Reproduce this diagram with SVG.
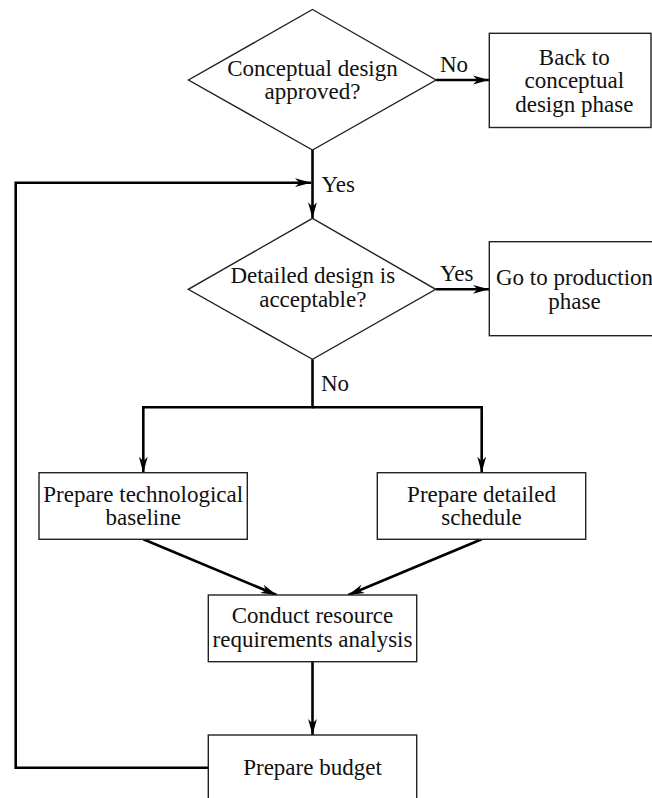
<svg xmlns="http://www.w3.org/2000/svg" width="652" height="798" viewBox="0 0 652 798">
  <style>
    .shape { fill: #ffffff; stroke: #222222; stroke-width: 1.4; }
    .conn { fill: none; stroke: #000000; stroke-width: 2.6; stroke-linejoin: miter; }
    .arrow { marker-end: url(#head); }
    text { font-family: "Liberation Serif", "Times New Roman", serif; font-size: 23px; fill: #111111; }
    .mid { text-anchor: middle; }
  </style>
  <defs>
    <marker id="head" markerUnits="userSpaceOnUse" viewBox="0 0 16 10" refX="16" refY="5" markerWidth="16" markerHeight="10" orient="auto">
      <path d="M0,0.6 L16,5 L0,9.4 L4.5,5 z" fill="#000000"/>
    </marker>
  </defs>

  <rect width="652" height="798" fill="#ffffff"/>

  <!-- connectors -->
  <g id="connectors">
    <path class="conn arrow" d="M436,80 H489"/>
    <path class="conn arrow" d="M312.5,150 V218.3"/>
    <path class="conn arrow" d="M208.3,767.7 H15.7 V182.7 H311"/>
    <path class="conn arrow" d="M435.7,289.3 H489"/>
    <path class="conn arrow" d="M312.5,359.3 V407.3 H143.3 V472.7"/>
    <path class="conn arrow" d="M312.5,407.3 H481.7 V472.7"/>
    <path class="conn arrow" d="M143.3,539.3 L276.7,595"/>
    <path class="conn arrow" d="M481.7,539.3 L348.3,595"/>
    <path class="conn arrow" d="M312.5,661.7 V735"/>
  </g>

  <!-- edge labels -->
  <g id="labels">
    <text x="440" y="72">No</text>
    <text x="321.5" y="191.5">Yes</text>
    <text x="440" y="280.5">Yes</text>
    <text x="321" y="390.5">No</text>
  </g>

  <g id="conceptual-approved">
    <polygon class="shape" points="312.5,9.5 436,80 312.5,150 188.5,80"/>
    <text class="mid" x="312.5" y="76">Conceptual design</text>
    <text class="mid" x="312.5" y="99">approved?</text>
  </g>

  <g id="back-to-conceptual">
    <rect class="shape" x="489.3" y="33.3" width="161.7" height="94.2"/>
    <text class="mid" x="574.3" y="65">Back to</text>
    <text class="mid" x="574.3" y="88.3">conceptual</text>
    <text class="mid" x="574.3" y="111.7">design phase</text>
  </g>

  <g id="detailed-acceptable">
    <polygon class="shape" points="312.5,218.3 435.7,289.3 312.5,359.3 188.3,289.3"/>
    <text class="mid" x="312.8" y="283.3">Detailed design is</text>
    <text class="mid" x="312.8" y="306.7">acceptable?</text>
  </g>

  <g id="go-to-production">
    <rect class="shape" x="489.3" y="241.7" width="170" height="94"/>
    <text class="mid" x="574.5" y="284.8">Go to production</text>
    <text class="mid" x="574.5" y="308.5">phase</text>
  </g>

  <g id="technological-baseline">
    <rect class="shape" x="39" y="472.7" width="208.3" height="66.6"/>
    <text class="mid" x="143.2" y="501.7">Prepare technological</text>
    <text class="mid" x="143.2" y="525">baseline</text>
  </g>

  <g id="detailed-schedule">
    <rect class="shape" x="377.3" y="472.7" width="208.4" height="66.6"/>
    <text class="mid" x="481.5" y="501.7">Prepare detailed</text>
    <text class="mid" x="481.5" y="525">schedule</text>
  </g>

  <g id="resource-analysis">
    <rect class="shape" x="208.3" y="595" width="208.4" height="66.7"/>
    <text class="mid" x="312.5" y="623.3">Conduct resource</text>
    <text class="mid" x="312.5" y="647.3">requirements analysis</text>
  </g>

  <g id="prepare-budget">
    <rect class="shape" x="208.3" y="735" width="208.4" height="100"/>
    <text class="mid" x="312.5" y="775">Prepare budget</text>
  </g>
</svg>
